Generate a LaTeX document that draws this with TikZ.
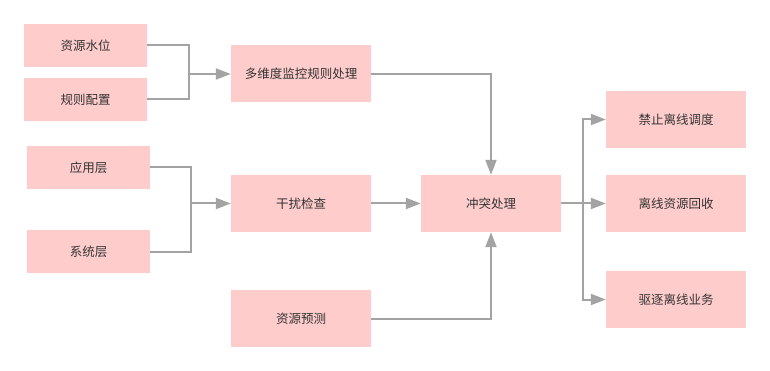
\documentclass[tikz,border=0pt]{standalone}
\usepackage{fontspec}
\setmainfont{Noto Sans CJK SC}
\usetikzlibrary{arrows.meta}
\definecolor{boxfill}{HTML}{FFCCCC}
\definecolor{linegray}{HTML}{A3A3A3}
\definecolor{txt}{HTML}{333333}
\begin{document}
\begin{tikzpicture}[x=1pt,y=-1pt,
  box/.style={fill=boxfill, draw=none, inner sep=0pt, text=txt, font=\fontsize{12.5}{14}\selectfont},
  wire/.style={draw=linegray, line width=2pt},
  arr/.style={wire, -{Triangle[length=15pt,width=11pt]}}]
\useasboundingbox (0,0) rectangle (770,371);
\node[box, minimum width=123pt, minimum height=43pt] (a) at (85.5,45.5) {资源水位};
\node[box, minimum width=123pt, minimum height=43pt] (b) at (85.5,99.5) {规则配置};
\node[box, minimum width=140pt, minimum height=57pt] (m) at (301,74) {多维度监控规则处理};
\node[box, minimum width=123pt, minimum height=43pt] (u) at (88.5,167.5) {应用层};
\node[box, minimum width=123pt, minimum height=43pt] (s) at (88.5,251.5) {系统层};
\node[box, minimum width=140pt, minimum height=57pt] (g) at (301,203.5) {干扰检查};
\node[box, minimum width=140pt, minimum height=57pt] (p) at (301,318.5) {资源预测};
\node[box, minimum width=140pt, minimum height=57pt] (c) at (491,203.5) {冲突处理};
\node[box, minimum width=140pt, minimum height=57pt] (r1) at (676,119.5) {禁止离线调度};
\node[box, minimum width=140pt, minimum height=57pt] (r2) at (676,203.5) {离线资源回收};
\node[box, minimum width=140pt, minimum height=57pt] (r3) at (676,299.5) {驱逐离线业务};
\coordinate (j1) at (189,74);
\coordinate (j2) at (191,203.5);
\coordinate (j3) at (583,203.5);
\draw[wire] (a.east) -| (j1);
\draw[wire] (b.east) -| (j1);
\draw[arr] (j1) -- (m.west);
\draw[wire] (u.east) -| (j2);
\draw[wire] (s.east) -| (j2);
\draw[arr] (j2) -- (g.west);
\draw[arr] (m.east) -| (c.north);
\draw[arr] (g.east) -- (c.west);
\draw[arr] (p.east) -| (c.south);
\draw[wire] (c.east) -- (j3);
\draw[arr] (j3) |- (r1.west);
\draw[arr] (j3) -- (r2.west);
\draw[arr] (j3) |- (r3.west);
\end{tikzpicture}
\end{document}
